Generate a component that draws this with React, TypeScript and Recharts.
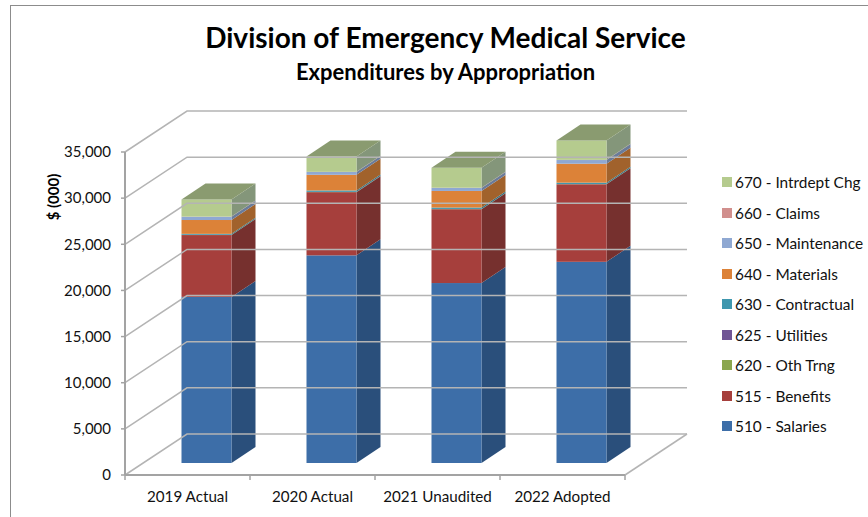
import React from 'react';
import { BarChart, Bar, XAxis, YAxis, ReferenceLine, Legend } from 'recharts';

const categories = ['2019 Actual', '2020 Actual', '2021 Unaudited', '2022 Adopted'];
const yTicks = [0, 5000, 10000, 15000, 20000, 25000, 30000, 35000];

const salaries = [18000, 22500, 19500, 21800];
const benefits = [6700, 6850, 8000, 8400];
const othTrng = [20, 20, 20, 20];
const utilities = [10, 10, 10, 10];
const contractual = [100, 150, 150, 150];
const materials = [1500, 1700, 1800, 2050];
const maintenance = [350, 300, 330, 400];
const claims = [20, 20, 20, 20];
const intrdept = [1850, 1650, 2160, 2100];

const series = [
	{ key: 'salaries', name: '510 - Salaries', values: salaries, fill: '#3d6ea8', side: '#2a4f7b' },
	{ key: 'benefits', name: '515 - Benefits', values: benefits, fill: '#a63f3c', side: '#76302e' },
	{ key: 'othTrng', name: '620 - Oth Trng', values: othTrng, fill: '#8aa64e', side: '#66793a' },
	{ key: 'utilities', name: '625 - Utilities', values: utilities, fill: '#705595', side: '#52406c' },
	{ key: 'contractual', name: '630 - Contractual', values: contractual, fill: '#3f97ae', side: '#2e6f80' },
	{ key: 'materials', name: '640 - Materials', values: materials, fill: '#dc8238', side: '#a1622c' },
	{ key: 'maintenance', name: '650 - Maintenance', values: maintenance, fill: '#8fa8d2', side: '#6a7c9a' },
	{ key: 'claims', name: '660 - Claims', values: claims, fill: '#d18f8d', side: '#996a68' },
	{ key: 'intrdept', name: '670 - Intrdept Chg', values: intrdept, fill: '#b5cb8e', side: '#84967a' },
];

const data = categories.map((name, i) => {
	const row: Record<string, string | number> = { name };
	series.forEach((s) => { row[s.key] = s.values[i]; });
	return row;
});

const FONT = 'Lato, "Open Sans", sans-serif';
const TEXT = '#111';
const GRID = '#b4b4b4';
const AXIS = '#a3a3a3';

// depth of the box the chart sits in, and where the bars stand inside it
const WALL_X = 62;
const WALL_Y = 41;
const BAR_SHIFT_X = 18.5;
const BAR_SHIFT_Y = 12;
const BAR_DEPTH_X = 24;
const BAR_DEPTH_Y = 16;
const TOP_COLOR = '#8a9b70';

function Bar3D(props: any, side: string, cap: boolean) {
	const { x, y, width: w, height: h, fill } = props;
	const dx = BAR_DEPTH_X;
	const dy = BAR_DEPTH_Y;
	return (
		<g transform={`translate(${BAR_SHIFT_X},${-BAR_SHIFT_Y})`}>
			<polygon
				points={`${x + w},${y} ${x + w + dx},${y - dy} ${x + w + dx},${y + h - dy} ${x + w},${y + h}`}
				fill={side}
			/>
			<rect x={x} y={y} width={w} height={h} fill={fill} />
			{cap && (
				<polygon
					points={`${x},${y} ${x + dx},${y - dy} ${x + w + dx},${y - dy} ${x + w},${y}`}
					fill={TOP_COLOR}
				/>
			)}
		</g>
	);
}

function WallLine(props: any, isFloor: boolean) {
	const { x1, y1, x2 } = props;
	const backY = y1 - WALL_Y;
	return (
		<g fill="none" stroke={GRID} strokeWidth={1.5}>
			<path d={`M${x1},${y1} L${x1 + WALL_X},${backY} L${x2 + WALL_X},${backY}`} />
			{isFloor && <path d={`M${x2},${y1} L${x2 + WALL_X},${backY}`} />}
		</g>
	);
}

function CategoryTick(props: any) {
	const { x, y, payload, index } = props;
	const half = 62.5;
	return (
		<g>
			<line x1={x - half} y1={y - 8} x2={x - half} y2={y - 3} stroke={AXIS} strokeWidth={1.5} />
			{index === categories.length - 1 && (
				<line x1={x + half} y1={y - 8} x2={x + half} y2={y - 3} stroke={AXIS} strokeWidth={1.5} />
			)}
			<text x={x} y={y + 19} textAnchor="middle" fontFamily={FONT} fontSize={15.2} fill={TEXT}>
				{payload.value}
			</text>
		</g>
	);
}

function LegendList(props: any) {
	const items = [...(props.payload || [])].reverse();
	return (
		<div style={{ position: 'absolute', left: 722, top: 167 }}>
			{items.map((item: any) => (
				<div
					key={item.value}
					style={{ display: 'flex', alignItems: 'center', height: 30.5, whiteSpace: 'nowrap', fontFamily: FONT, fontSize: 15.4, color: TEXT }}
				>
					<span style={{ width: 10, height: 10, background: item.color, marginRight: 3 }} />
					{item.value}
				</div>
			))}
		</div>
	);
}

export default function App() {
	return (
		<div style={{ position: 'fixed', left: 0, top: 0, width: 868, height: 517, background: '#fff', overflow: 'hidden' }}>
			<div style={{ position: 'absolute', left: 10, top: 5, right: -2, bottom: -2, borderLeft: '1.5px solid #8c8c8c', borderTop: '1.5px solid #8c8c8c' }} />
			<div style={{ position: 'absolute', left: 10, width: 871, top: 20, textAlign: 'center', fontFamily: FONT, fontWeight: 700, fontSize: 28, lineHeight: '34px', color: '#000' }}>
				Division of Emergency Medical Service
			</div>
			<div style={{ position: 'absolute', left: 10, width: 871, top: 59, textAlign: 'center', fontFamily: FONT, fontWeight: 700, fontSize: 22, lineHeight: '26px', color: '#000' }}>
				Expenditures by Appropriation
			</div>
			<div style={{ position: 'absolute', left: 38, top: 172, width: 30, height: 50, display: 'flex', alignItems: 'center', justifyContent: 'center' }}>
				<span style={{ transform: 'rotate(-90deg)', whiteSpace: 'nowrap', fontFamily: FONT, fontWeight: 700, fontSize: 15, color: '#000' }}>$ (000)</span>
			</div>
			<BarChart
				width={868}
				height={517}
				data={data}
				barSize={50}
				margin={{ top: 152, right: 243, bottom: 12, left: 65 }}
				style={{ position: 'absolute', left: 0, top: 0 }}
			>
				{yTicks.map((t) => (
					<ReferenceLine key={t} y={t} shape={(p: any) => WallLine(p, t === 0)} />
				))}
				<XAxis
					dataKey="name"
					height={30}
					interval={0}
					tickLine={false}
					axisLine={{ stroke: AXIS, strokeWidth: 2 }}
					tick={CategoryTick}
				/>
				<YAxis
					width={60}
					domain={[0, 35000]}
					ticks={yTicks}
					interval={0}
					tickSize={4}
					tickMargin={10}
					tickFormatter={(v: number) => v.toLocaleString('en-US')}
					axisLine={{ stroke: AXIS, strokeWidth: 2 }}
					tickLine={{ stroke: AXIS, strokeWidth: 1.5 }}
					tick={{ fontFamily: FONT, fontSize: 15, fill: TEXT }}
				/>
				<Legend
					layout="vertical"
					align="right"
					verticalAlign="top"
					content={LegendList}
					wrapperStyle={{ left: 0, top: 0, right: 'auto', width: 0, height: 0 }}
				/>
				{series.map((s, i) => (
					<Bar
						key={s.key}
						dataKey={s.key}
						name={s.name}
						stackId="total"
						fill={s.fill}
						isAnimationActive={false}
						shape={(p: any) => Bar3D(p, s.side, i === series.length - 1)}
					/>
				))}
			</BarChart>
		</div>
	);
}
